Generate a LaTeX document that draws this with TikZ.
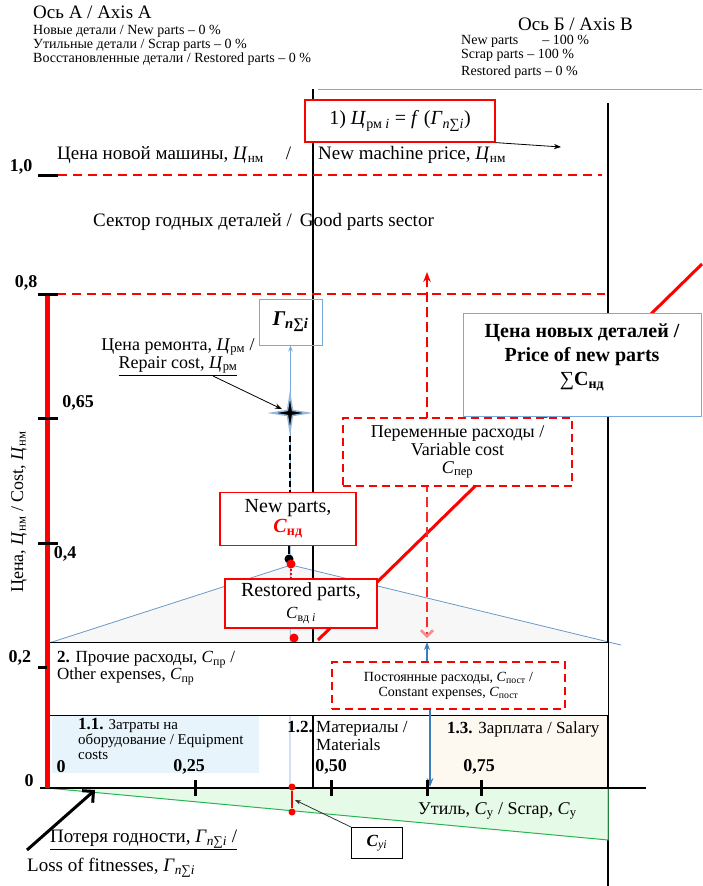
\documentclass[tikz,border=0pt]{standalone}
\usepackage{fontspec}
\setmainfont{Liberation Serif}
\usetikzlibrary{arrows.meta,positioning,shapes.geometric,calc}
\definecolor{boxblue}{RGB}{120,170,220}
\definecolor{arrblue}{RGB}{60,125,190}
\definecolor{secblue}{RGB}{232,244,252}
\definecolor{secbeige}{RGB}{253,249,240}
\definecolor{scrapgreen}{RGB}{230,250,232}
\definecolor{edgegreen}{RGB}{40,180,80}
\newcommand{\fsz}[1]{\fontsize{#1}{#1}\selectfont}
\newcommand{\Ci}{\textit{Ц}}
\newcommand{\Gi}{\textit{Г}\textsubscript{\textit{n}∑\textit{i}}}
\newcommand{\sbt}[1]{\textsubscript{#1}}

\begin{document}
\begin{tikzpicture}[x=1pt,y=-1pt,
  txt/.style={inner sep=0pt, font=\fsz{19}},
  small/.style={inner sep=0pt, font=\fontsize{14}{14}\selectfont, align=left},
  tick/.style={line width=3pt},
  ticklbl/.style={inner sep=0pt, font=\fsz{18}\bfseries},
  redbox/.style={draw=red, line width=1.2pt, fill=white, align=center, inner sep=0pt},
  bluebox/.style={draw=boxblue, line width=1pt, align=center, inner sep=0pt},
  dashbox/.style={draw=red, line width=2pt, dash pattern=on 8pt off 5pt, fill=white, align=center, inner sep=0pt},
  level/.style={red, line width=1.8pt, dash pattern=on 9pt off 6pt},
  dot/.style={circle, inner sep=0pt, minimum size=9pt},
]
\useasboundingbox (0,0) rectangle (702,886);
\coordinate (o) at (47,788);
\coordinate (xend) at (646,788);
\coordinate (ytop) at (47,294);
\coordinate (triL) at (49,643);
\coordinate (apex) at (291,565);
\coordinate (triR) at (621,645);
\coordinate (vtop) at (427,272);
\coordinate (vmid) at (427,452);
\coordinate (vbot) at (427,638);

\fill[gray!6] (triL) -- (apex) -- (triR) -- cycle;
\fill[secblue] (52,715) rectangle (259,773);
\fill[secbeige] (432,715) rectangle (607,787);
\draw[boxblue!90!black, line width=0.8pt] (triL) -- (apex) -- (triR);

\node[txt, anchor=west] (axA) at (33,12) {Ось А / Axis A};
\node[small, anchor=north west] (axAlist) at (33,25) {Новые детали / New parts – 0 \%\\Утильные детали / Scrap parts – 0 \%\\Восстановленные детали / Restored parts – 0 \%};
\node[txt, anchor=west] (axB) at (518,24) {Ось Б / Axis B};
\node[small, anchor=west] (axBnew) at (461,41) {New parts\hspace{24pt}– 100 \%};
\node[small, anchor=west] (axBscrap) at (461,55) {Scrap parts – 100 \%};
\node[small, anchor=west] (axBrest) at (461,72) {Restored parts – 0 \%};

\draw[boxblue, line width=0.8pt] (318,89) -- (702,89);
\draw[line width=2pt] (313,89) -- (313,788);
\draw[line width=2.5pt] (608,103) -- (608,886);
\draw[level] (58,175) -- (602,175);
\draw[level] (57,294) -- (605,294);
\draw[red, line width=3pt] (318,640) -- (702,264);
\draw[red, line width=2.5pt, dash pattern=on 10pt off 5pt, -{Stealth[length=10pt]}] (vmid) -- (vtop);
\draw[red!85, line width=2.5pt, dash pattern=on 10pt off 5pt, -{Straight Barb[length=6pt, red!45]}] (vmid) -- (vbot);

\node[redbox, minimum width=190pt, minimum height=42pt, font=\fsz{20}] (formula) at (400,121) {1) \Ci\sbt{рм \textit{i}} = \textit{f} (\Gi)};
\coordinate (fEnd) at (561,147);
\draw[-{Stealth[length=7pt]}, line width=0.8pt] (formula.south east) -- (fEnd);

\node[txt, anchor=west] (newmach) at (57,155) {Цена новой машины, \Ci\sbt{нм}\hspace{22pt}/};
\node[txt, anchor=west] (newmachEn) at (318,155) {New machine price, \Ci\sbt{нм}};
\node[txt, anchor=west] (sector) at (93,222) {Сектор годных деталей /\hspace{8pt}Good parts sector};

\node[bluebox, minimum width=63pt, minimum height=46pt, font=\fsz{21}\bfseries\itshape] (gbox) at (290.5,322) {Г\textsubscript{n∑i}};
\draw[boxblue, line width=0.8pt, -{Stealth[length=6pt]}] (290,788) -- (gbox.south);

\node[txt, align=center, font=\fsz{18}] (repair) at (178,357) {Цена ремонта, \Ci\sbt{рм} /\\\underline{Repair cost, \Ci\sbt{рм}}};
\node[star, star points=4, star point ratio=5, minimum size=36pt, inner sep=0pt, fill=black, draw=arrblue!55, line width=1.5pt] (star) at (290,413) {};
\coordinate (repTail) at (213,376);
\draw[-{Stealth[length=7pt]}, line width=0.8pt, shorten >=9pt] (repTail) -- (star.center);

\node[redbox, minimum width=136pt, minimum height=53pt, font=\fsz{20}] (newp) at (288,519) {New parts,\\\textcolor{red}{\textbf{\textit{C}\textsubscript{нд}}}};
\draw[line width=2.5pt, dash pattern=on 6pt off 3pt] (star.south) -- (star.south |- newp.north);
\node[dot, fill=black] (bdot) at (289,559) {};
\node[dot, fill=red] (rdot) at (291,564) {};
\draw[line width=2pt] (newp.south -| bdot) -- (bdot);
\node[redbox, minimum width=152pt, minimum height=49pt, font=\fontsize{20}{22}\selectfont] (restp) at (301,603.5) {Restored parts,\\\fsz{17}\textit{C}\textsubscript{вд \textit{i}}};
\draw[red, line width=2pt, dotted] (rdot) -- (rdot |- restp.north);
\node[dot, fill=red] (rdot2) at (294,638) {};

\node[dashbox, minimum width=229pt, minimum height=68pt, font=\fsz{18}] (varb) at (457.5,452) {Переменные расходы /\\Variable cost\\\textit{C}\sbt{пер}};
\node[bluebox, fill=white, minimum width=238pt, minimum height=103pt] (priceb) at (582,364.5) {};
\node[txt, align=center, font=\fontsize{20}{24}\selectfont\bfseries] (pricetxt) at (582,357) {Цена новых деталей /\\Price of new parts\\{\mdseries ∑}C\textsubscript{нд}};

\node[draw, line width=1.2pt, fill=white, minimum width=560pt, minimum height=73pt, anchor=north west, inner sep=0pt] (other) at (48,642) {};
\node[txt, anchor=north west, align=left, font=\fontsize{17}{17}\selectfont] (othertxt) at (57,651) {\textbf{2.} Прочие расходы, \textit{C}\sbt{пр} /\\Other expenses, \textit{C}\sbt{пр}};
\node[dashbox, minimum width=233pt, minimum height=47pt, font=\fontsize{14}{15}\selectfont] (constb) at (448.5,685.5) {Постоянные расходы, \textit{C}\sbt{пост} /\\Constant expenses, \textit{C}\sbt{пост}};
\draw[arrblue, line width=2.5pt, -{Stealth[length=8pt]}] (vbot |- constb.north) -- (vbot |- other.north);
\coordinate (barr) at (430,787);
\draw[arrblue, line width=2.5pt, -{Stealth[length=9pt]}] (constb.south -| barr) -- (barr);

\node[txt, anchor=north west, align=left, font=\fontsize{15}{15}\selectfont] (sec11) at (78,718) {{\fsz{17}\bfseries 1.1.} Затраты на\\оборудование / Equipment\\costs};
\node[txt, anchor=north east, font=\fsz{17}\bfseries] (sec12n) at (313,721) {1.2.};
\node[txt, anchor=north west, align=left, font=\fontsize{17}{18}\selectfont] (sec12) at (316,721) {Материалы /\\Materials};
\node[txt, anchor=north west, font=\fsz{17}] (sec13) at (447,721) {\textbf{1.3.} Зарплата / Salary};

\filldraw[fill=scrapgreen, draw=edgegreen, line width=1pt] (o) -- (608,788) -- (608,840) -- cycle;
\draw[line width=1.5pt] (40,788) -- (xend);
\foreach \x in {195,331,427,481} \draw[tick] (\x,780) -- (\x,796);
\node[ticklbl] (x0) at (61,767) {0};
\node[ticklbl] (x25) at (189,767) {0,25};
\node[ticklbl] (x50) at (331,767) {0,50};
\node[ticklbl] (x75) at (479,767) {0,75};
\node[ticklbl] (y0) at (29,781) {0};

\draw[red, line width=5pt] (ytop) -- (o);
\foreach \y in {175,294,418,543} \draw[tick] (38,\y) -- (58,\y);
\draw[tick] (38,667) -- (47,667);
\node[ticklbl] (y10) at (21,167) {1,0};
\node[ticklbl] (y08) at (26,283) {0,8};
\node[ticklbl] (y065) at (78,403) {0,65};
\node[ticklbl] (y04) at (65,554) {0,4};
\node[ticklbl] (y02) at (20,658) {0,2};
\node[txt, rotate=90, font=\fsz{18}] (ylab) at (19,512) {Цена, \Ci\sbt{нм} / Cost, \Ci\sbt{нм}};

\node[txt, anchor=west, font=\fsz{18}] (scrap) at (418,811) {Утиль, \textit{C}\sbt{у} / Scrap, \textit{C}\sbt{у}};
\node[dot, fill=red, minimum size=7pt] (cyT) at (292,787) {};
\node[dot, fill=red, minimum size=7pt] (cyB) at (292,812) {};
\draw[red, line width=2pt] (cyT) -- (cyB);
\node[draw, line width=0.8pt, minimum width=51pt, minimum height=31pt, inner sep=0pt, font=\fsz{17}] (cyi) at (377,843) {\textbf{\textit{C}}\sbt{\textit{уi}}};
\coordinate (cyMid) at (295,800);
\draw[-{Stealth[length=6pt]}, gray!40!black, line width=0.8pt] (cyi.north west) -- (cyMid);

\node[txt, anchor=west] (loss) at (50,840) {\underline{Потеря годности, \Gi\ /}};
\node[txt, anchor=west] (lossEn) at (27,868) {Loss of fitnesses, \Gi};
\coordinate (lossTail) at (27,850);
\coordinate (lossHead) at (95,790);
\draw[line width=3pt, -{Straight Barb[length=8pt]}] (lossTail) -- (lossHead);
\end{tikzpicture}
\end{document}
